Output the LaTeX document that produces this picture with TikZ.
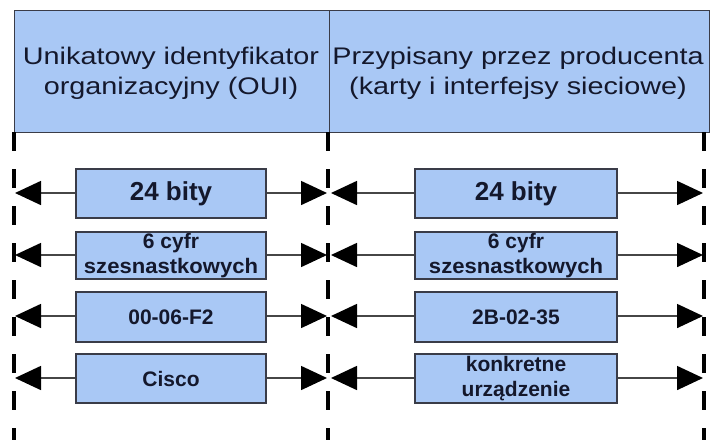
\documentclass[tikz,border=0pt]{standalone}
\usepackage{fontspec}
\setmainfont{Liberation Sans}
\usepackage{graphicx}
\usetikzlibrary{arrows.meta}
\definecolor{boxfill}{RGB}{169,200,245}
\definecolor{boxline}{RGB}{58,60,72}
\definecolor{textcol}{RGB}{20,24,44}
\definecolor{linkcol}{RGB}{70,70,70}
\newcommand{\hs}[2]{\scalebox{#1}[1]{#2}}
\tikzset{
  field/.style={draw=boxline, line width=1.6pt, fill=boxfill, inner sep=0pt,
    text=textcol, align=center},
  hdrtext/.style={text=textcol, align=center, font=\fontsize{24}{30}\selectfont, inner sep=0pt},
  bitstext/.style={font=\bfseries\fontsize{26}{30}\selectfont},
  smalltext/.style={font=\bfseries\fontsize{21}{25}\selectfont},
  fence/.style={line width=4pt, dash pattern=on 19pt off 18pt, black},
  span/.style={draw=linkcol, line width=1.6pt,
    -{Triangle[length=26pt,width=24pt,fill=black,color=black]}},
}
\begin{document}
\begin{tikzpicture}[x=1pt,y=-1pt]
\useasboundingbox (0,0) rectangle (714,440);
\fill[white] (0,0) rectangle (714,440);

% header band
\node[field, line width=1.4pt, minimum width=315pt, minimum height=122pt, anchor=north west] (oui) at (14,10) {};
\node[field, line width=1.4pt, minimum width=380pt, minimum height=122pt, anchor=north west] (nic) at (329,10) {};
\node[hdrtext] (ouitxt) at (171,73) {\hs{1.2}{Unikatowy identyfikator}\\\hs{1.2}{organizacyjny (OUI)}};
\node[hdrtext] (nictxt) at (518,73) {\hs{1.2}{Przypisany przez producenta}\\\hs{1.2}{(karty i interfejsy sieciowe)}};

% boundary markers
\coordinate (l0) at (14,132);  \coordinate (l1) at (14,440);
\coordinate (m0) at (328,132); \coordinate (m1) at (328,440);
\coordinate (r0) at (704,132); \coordinate (r1) at (704,440);
\draw[fence] (l0) -- (l1);
\draw[fence] (m0) -- (m1);
\draw[fence] (r0) -- (r1);

% left column fields
\node[field, bitstext, minimum width=190pt, minimum height=49pt] (a1) at (171,193.5) {24 bity};
\node[field, smalltext, minimum width=190pt, minimum height=47pt] (a2) at (171,255.5) {6 cyfr\\\hs{1.05}{szesnastkowych}};
\node[field, smalltext, minimum width=190pt, minimum height=50pt] (a3) at (171,317) {00-06-F2};
\node[field, smalltext, minimum width=190pt, minimum height=49pt] (a4) at (171,378.5) {Cisco};

% right column fields
\node[field, bitstext, minimum width=202pt, minimum height=49pt] (b1) at (516,193.5) {24 bity};
\node[field, smalltext, minimum width=202pt, minimum height=47pt] (b2) at (516,255.5) {6 cyfr\\\hs{1.05}{szesnastkowych}};
\node[field, smalltext, minimum width=202pt, minimum height=50pt] (b3) at (516,317) {2B-02-35};
\node[field, smalltext, minimum width=202pt, minimum height=49pt] (b4) at (516,378.5) {konkretne\\urządzenie};

% arrow end points on the boundaries
\foreach \r/\y in {1/193,2/255,3/316,4/378}{
  \coordinate (la\r) at (15,\y);
  \coordinate (ma\r) at (327,\y);
  \coordinate (mb\r) at (331,\y);
  \coordinate (rb\r) at (703,\y);
}
\foreach \r in {1,2,3,4}{
  \draw[span] (a\r.west |- la\r) -- (la\r);
  \draw[span] (a\r.east |- ma\r) -- (ma\r);
  \draw[span] (b\r.west |- mb\r) -- (mb\r);
  \draw[span] (b\r.east |- rb\r) -- (rb\r);
}
\end{tikzpicture}
\end{document}
